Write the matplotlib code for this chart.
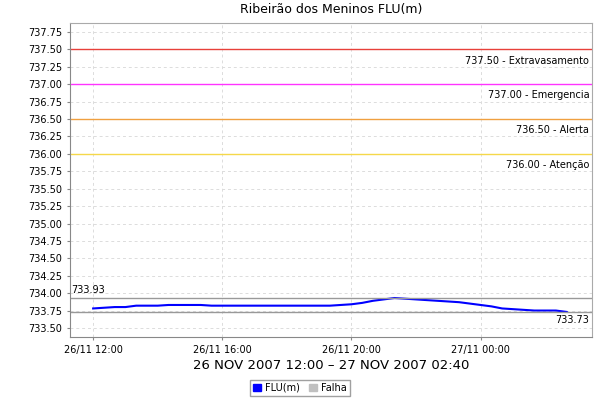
import numpy as np
import pandas as pd
import matplotlib
matplotlib.use("Agg")
import matplotlib.pyplot as plt
import matplotlib.dates as mdates
from matplotlib.patches import Patch

# nivel (m) a cada 20 min, 26/11 12:00 -> 27/11 02:40
nivel = [733.78, 733.79, 733.80, 733.80, 733.82, 733.82, 733.82, 733.83, 733.83,
         733.83, 733.83, 733.82, 733.82, 733.82, 733.82, 733.82, 733.82, 733.82,
         733.82, 733.82, 733.82, 733.82, 733.82, 733.83, 733.84, 733.86, 733.89,
         733.91, 733.93, 733.92, 733.91, 733.90, 733.89, 733.88, 733.87, 733.85,
         733.83, 733.81, 733.78, 733.77, 733.76, 733.75, 733.75, 733.75, 733.73]
tempo = pd.date_range("2007-11-26 12:00", periods=len(nivel), freq="20min")

cotas = [737.50, 737.00, 736.50, 736.00]
cotas_nome = ["Extravasamento", "Emergencia", "Alerta", "Atenção"]
cotas_cor = ["#e8403a", "#ff33ff", "#f0a040", "#f5d84a"]

vmax = max(nivel)
vmin = min(nivel)

fig = plt.figure(figsize=(6, 4), dpi=100)
ax = fig.add_axes([70/600, 63/400, 522/600, 314/400])

ax.plot(tempo, nivel, color="#0000ff", lw=1.5)

for c, nome, cor in zip(cotas, cotas_nome, cotas_cor):
    ax.axhline(c, color=cor, lw=1)
    ax.annotate("%.2f - %s" % (c, nome), xy=(1, c), xycoords=("axes fraction", "data"),
                xytext=(-2, -8), textcoords="offset points", ha="right", va="center",
                fontsize=7)

ax.axhline(vmax, color="#999999", lw=1)
ax.axhline(vmin, color="#999999", lw=1)
ax.annotate("%.2f" % vmax, xy=(0, vmax), xycoords=("axes fraction", "data"),
            xytext=(1, 6), textcoords="offset points", ha="left", va="center", fontsize=7)
ax.annotate("%.2f" % vmin, xy=(1, vmin), xycoords=("axes fraction", "data"),
            xytext=(-2, -6), textcoords="offset points", ha="right", va="center", fontsize=7)

ax.set_ylim(733.37, 737.88)
ax.set_yticks(np.arange(733.5, 737.76, 0.25))
ax.yaxis.set_major_formatter(plt.FormatStrFormatter("%.2f"))
ax.set_xlim(pd.Timestamp("2007-11-26 11:17"), pd.Timestamp("2007-11-27 03:27"))
ax.xaxis.set_major_locator(mdates.HourLocator(byhour=range(0, 24, 4)))
ax.xaxis.set_major_formatter(mdates.DateFormatter("%d/%m %H:%M"))

ax.grid(True, color="#dcdcdc", ls=(0, (3, 3)), lw=0.7)
ax.tick_params(labelsize=7, length=2, color="#888888")
for s in ax.spines.values():
    s.set_color("#aaaaaa")
ax.spines["left"].set_color("#888888")
ax.spines["bottom"].set_color("#888888")

ax.set_title("Ribeirão dos Meninos FLU(m)", fontsize=9, pad=7)
ax.set_xlabel("26 NOV 2007 12:00 – 27 NOV 2007 02:40", fontsize=9.5, labelpad=3)

fig.legend(handles=[Patch(color="#0000ff", label="FLU(m)"), Patch(color="#c0c0c0", label="Falha")],
           loc="center", bbox_to_anchor=(0.5, 0.03), ncol=2, fontsize=7, frameon=True,
           fancybox=False, edgecolor="#888888", handlelength=0.8, handleheight=0.8,
           handletextpad=0.4, columnspacing=1.0, borderpad=0.3)

plt.savefig("out.png", dpi=100)
